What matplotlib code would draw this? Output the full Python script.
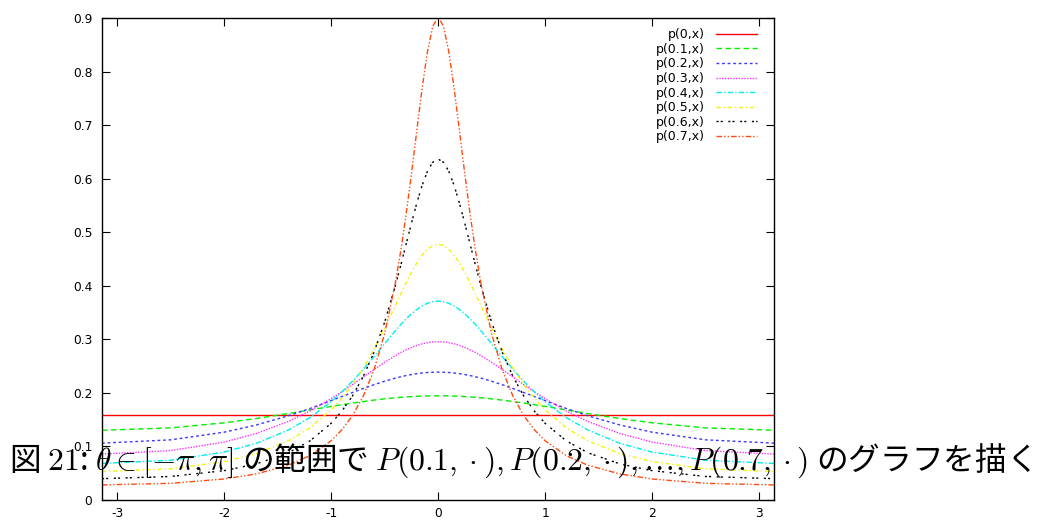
import numpy as np
import matplotlib
matplotlib.use("Agg")
from matplotlib import pyplot as plt

plt.rcParams['font.family'] = ['DejaVu Sans']
plt.rcParams['mathtext.fontset'] = 'cm'
plt.rcParams['axes.unicode_minus'] = False

# sample points in [-pi, pi]
theta = [-3.1416, -2.5, -2.0, -1.7, -1.4, -1.2, -1.0, -0.9, -0.8, -0.7, -0.6,
         -0.5, -0.4, -0.35, -0.3, -0.25, -0.2, -0.15, -0.1, -0.05,
         0.0,
         0.05, 0.1, 0.15, 0.2, 0.25, 0.3, 0.35, 0.4, 0.5, 0.6,
         0.7, 0.8, 0.9, 1.0, 1.2, 1.4, 1.7, 2.0, 2.5, 3.1416]

p0 = [0.1592] * len(theta)
p01 = [0.1302, 0.1346, 0.1441, 0.1521, 0.1614, 0.1681, 0.1747, 0.1779, 0.1810, 0.1838, 0.1865,
       0.1888, 0.1908, 0.1917, 0.1924, 0.1930, 0.1936, 0.1940, 0.1943, 0.1945,
       0.1945,
       0.1945, 0.1943, 0.1940, 0.1936, 0.1930, 0.1924, 0.1917, 0.1908, 0.1888, 0.1865,
       0.1838, 0.1810, 0.1779, 0.1747, 0.1681, 0.1614, 0.1521, 0.1441, 0.1346, 0.1302]
p02 = [0.1061, 0.1123, 0.1266, 0.1400, 0.1572, 0.1707, 0.1855, 0.1931, 0.2007, 0.2081, 0.2152,
       0.2218, 0.2275, 0.2300, 0.2323, 0.2342, 0.2358, 0.2371, 0.2380, 0.2385,
       0.2387,
       0.2385, 0.2380, 0.2371, 0.2358, 0.2342, 0.2323, 0.2300, 0.2275, 0.2218, 0.2152,
       0.2081, 0.2007, 0.1931, 0.1855, 0.1707, 0.1572, 0.1400, 0.1266, 0.1123, 0.1061]
p03 = [0.0857, 0.0922, 0.1081, 0.1241, 0.1466, 0.1660, 0.1891, 0.2020, 0.2155, 0.2295, 0.2435,
       0.2570, 0.2695, 0.2752, 0.2803, 0.2847, 0.2885, 0.2916, 0.2938, 0.2951,
       0.2956,
       0.2951, 0.2938, 0.2916, 0.2885, 0.2847, 0.2803, 0.2752, 0.2695, 0.2570, 0.2435,
       0.2295, 0.2155, 0.2020, 0.1891, 0.1660, 0.1466, 0.1241, 0.1081, 0.0922, 0.0857]
p04 = [0.0682, 0.0742, 0.0895, 0.1058, 0.1306, 0.1536, 0.1837, 0.2017, 0.2218, 0.2439, 0.2675,
       0.2919, 0.3159, 0.3273, 0.3378, 0.3474, 0.3556, 0.3623, 0.3673, 0.3703,
       0.3714,
       0.3703, 0.3673, 0.3623, 0.3556, 0.3474, 0.3378, 0.3273, 0.3159, 0.2919, 0.2675,
       0.2439, 0.2218, 0.2017, 0.1837, 0.1536, 0.1306, 0.1058, 0.0895, 0.0742, 0.0682]
p05 = [0.0531, 0.0582, 0.0716, 0.0866, 0.1105, 0.1345, 0.1682, 0.1900, 0.2157, 0.2460, 0.2811,
       0.3205, 0.3629, 0.3843, 0.4051, 0.4247, 0.4422, 0.4569, 0.4681, 0.4751,
       0.4775,
       0.4751, 0.4681, 0.4569, 0.4422, 0.4247, 0.4051, 0.3843, 0.3629, 0.3205, 0.2811,
       0.2460, 0.2157, 0.1900, 0.1682, 0.1345, 0.1105, 0.0866, 0.0716, 0.0582, 0.0531]
p06 = [0.0398, 0.0439, 0.0548, 0.0673, 0.0881, 0.1101, 0.1431, 0.1659, 0.1944, 0.2304, 0.2756,
       0.3319, 0.3999, 0.4376, 0.4769, 0.5162, 0.5538, 0.5872, 0.6136, 0.6307,
       0.6366,
       0.6307, 0.6136, 0.5872, 0.5538, 0.5162, 0.4769, 0.4376, 0.3999, 0.3319, 0.2756,
       0.2304, 0.1944, 0.1659, 0.1431, 0.1101, 0.0881, 0.0673, 0.0548, 0.0439, 0.0398]
p07 = [0.0281, 0.0311, 0.0392, 0.0486, 0.0648, 0.0826, 0.1106, 0.1310, 0.1577, 0.1936, 0.2426,
       0.3105, 0.4048, 0.4641, 0.5322, 0.6079, 0.6884, 0.7678, 0.8368, 0.8847,
       0.9019,
       0.8847, 0.8368, 0.7678, 0.6884, 0.6079, 0.5322, 0.4641, 0.4048, 0.3105, 0.2426,
       0.1936, 0.1577, 0.1310, 0.1106, 0.0826, 0.0648, 0.0486, 0.0392, 0.0311, 0.0281]

labels = ["p(0,x)", "p(0.1,x)", "p(0.2,x)", "p(0.3,x)",
          "p(0.4,x)", "p(0.5,x)", "p(0.6,x)", "p(0.7,x)"]
series = [p0, p01, p02, p03, p04, p05, p06, p07]
colors = ["#ff0000", "#00f000", "#3838ff", "#ff30ff",
          "#00eeee", "#f4f400", "#000000", "#ff4a10"]
dashes = ["-", (0, (4, 2.5)), (0, (2, 2)), (0, (1, 1)),
          (0, (4, 1.5, 1, 1.5)), (0, (3, 2, 1, 2)), (0, (1.5, 1.5, 1.5, 4)),
          (0, (4, 1.5, 1, 1.5, 1, 1.5))]

fig = plt.figure(figsize=(10.43, 5.2), dpi=100)
ax = fig.add_axes([0.0978, 0.0385, 0.6445, 0.9269])

for ys, lab, c, ls in zip(series, labels, colors, dashes):
    ax.plot(theta, ys, color=c, linestyle=ls, linewidth=1.0, label=lab)

ax.set_xlim(-np.pi, np.pi)
ax.set_ylim(0, 0.9)
ax.set_xticks([-3, -2, -1, 0, 1, 2, 3])
ax.set_yticks([0, 0.1, 0.2, 0.3, 0.4, 0.5, 0.6, 0.7, 0.8, 0.9])
ax.set_yticklabels(["0", "0.1", "0.2", "0.3", "0.4", "0.5", "0.6", "0.7", "0.8", "0.9"])
ax.tick_params(direction="in", top=True, right=True, length=6, width=0.8,
               labelsize=8.8, pad=7)
ax.tick_params(axis="x", pad=5)
for sp in ax.spines.values():
    sp.set_linewidth(1.0)

leg = ax.legend(loc="upper right", bbox_to_anchor=(0.9747, 0.979),
                frameon=False, markerfirst=False, fontsize=9,
                handlelength=3.3, labelspacing=0.13, handletextpad=0.9,
                borderpad=0, borderaxespad=0)

cap = (u"図 $\\mathrm{21}$: $\\theta \\in [-\\pi, \\pi]$ の範囲で "
       u"$P(0.1,\\cdot), P(0.2,\\cdot), \\ldots, P(0.7,\\cdot)$ のグラフを描く")
fig.text(0.009, 0.096, cap, fontsize=22.8, va="baseline",
         family=["Noto Sans CJK JP", "DejaVu Sans"])

fig.savefig("out.png", dpi=100)
